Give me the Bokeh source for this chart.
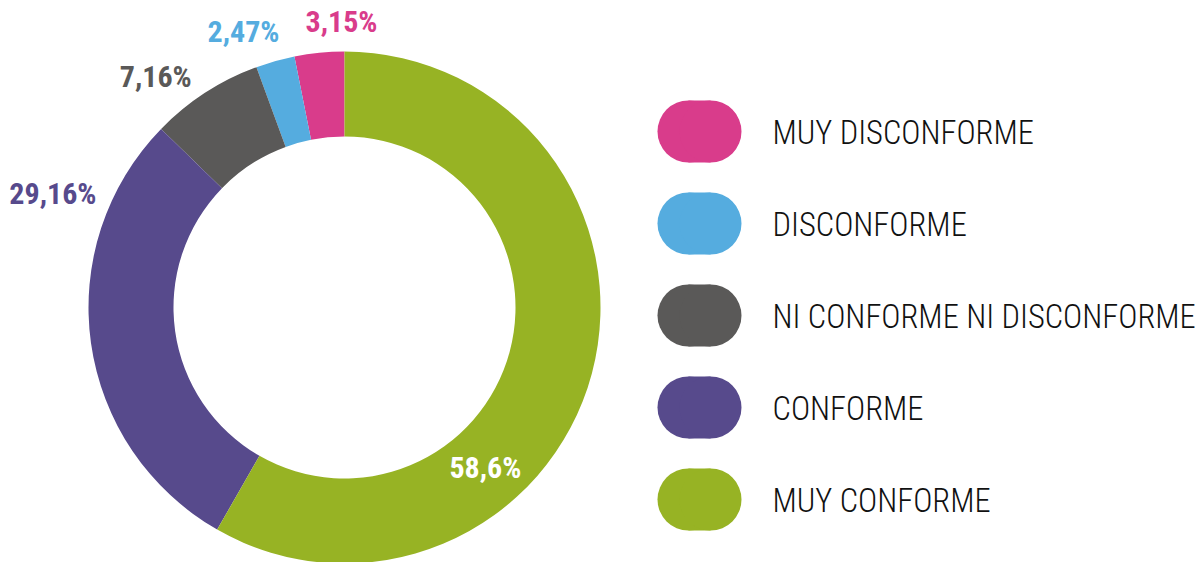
import math
from bokeh.plotting import figure
from bokeh.models import Range1d, ColumnDataSource
from bokeh.core.properties import value
from bokeh.embed import file_html
from bokeh.resources import INLINE

# ---- data ----
categories = ["MUY DISCONFORME", "DISCONFORME", "NI CONFORME NI DISCONFORME", "CONFORME", "MUY CONFORME"]
values = [3.15, 2.47, 7.16, 29.16, 58.6]
labels = ["3,15%", "2,47%", "7,16%", "29,16%", "58,6%"]
colors = ["#d93c8b", "#55acdf", "#5a5958", "#574a8c", "#97b324"]
label_colors = ["#d93c8b", "#55acdf", "#5a5958", "#574a8c", "#ffffff"]

# ---- layout (pixels) ----
W, H = 1202, 562
CX, CY = 344, H - 307          # donut centre (plot coords)
R_OUT, R_IN = 256, 171
# label placement: angle (deg, ccw from top), distance from centre
label_polar = [(0.6, 286), (20.1, 294), (39.3, 298), (68.7, 313), (221.4, 213)]
LEG_X, LEG_Y0, LEG_STEP = 699, H - 131, 92
PILL_W, PILL_H = 84, 62
TEXT_X = 772
FONT_BOLD = value("Roboto Condensed, Roboto")
FONT_LIGHT = value("Roboto Condensed Light, Roboto Condensed, Roboto")

p = figure(width=W, height=H, output_backend="svg", toolbar_location=None,
           x_range=Range1d(0, W), y_range=Range1d(0, H), min_border=0)
p.axis.visible = False
p.grid.visible = False
p.outline_line_color = None
p.background_fill_color = "white"
p.border_fill_color = "white"

total = sum(values)
starts, ends = [], []
cum = 0.0
for v in values:
    a0 = math.pi / 2 + 2 * math.pi * cum / total
    cum += v
    a1 = math.pi / 2 + 2 * math.pi * cum / total
    starts.append(a0)
    ends.append(a1)

src = ColumnDataSource(dict(start=starts, end=ends, color=colors))
p.annular_wedge(x=CX, y=CY, inner_radius=R_IN, outer_radius=R_OUT,
                start_angle="start", end_angle="end", fill_color="color",
                line_color=None, source=src)

# percentage labels
lx, ly = [], []
for a, r in label_polar:
    t = math.pi / 2 + math.radians(a)
    lx.append(CX + r * math.cos(t))
    ly.append(CY + r * math.sin(t))
lsrc = ColumnDataSource(dict(x=lx, y=ly, text=labels, color=label_colors))
p.text(x="x", y="y", text="text", text_color="color", source=lsrc,
       text_font=FONT_BOLD, text_font_style="bold",
       text_font_size="30px", text_align="center", text_baseline="middle")

# legend (custom pills)
ys = [LEG_Y0 - i * LEG_STEP for i in range(len(categories))]
rr = PILL_H / 2
p.rect(x=[LEG_X] * len(ys), y=ys, width=PILL_W - PILL_H, height=PILL_H,
       fill_color=colors, line_color=None)
p.circle(x=[LEG_X - (PILL_W - PILL_H) / 2] * len(ys), y=ys, radius=rr,
         fill_color=colors, line_color=None)
p.circle(x=[LEG_X + (PILL_W - PILL_H) / 2] * len(ys), y=ys, radius=rr,
         fill_color=colors, line_color=None)
p.text(x=[TEXT_X] * len(ys), y=[y - 1 for y in ys], text=categories,
       text_font=FONT_LIGHT, text_font_size="32.5px",
       text_color="#111111", text_align="left", text_baseline="middle")

open("out.html", "w").write(file_html(p, INLINE))
